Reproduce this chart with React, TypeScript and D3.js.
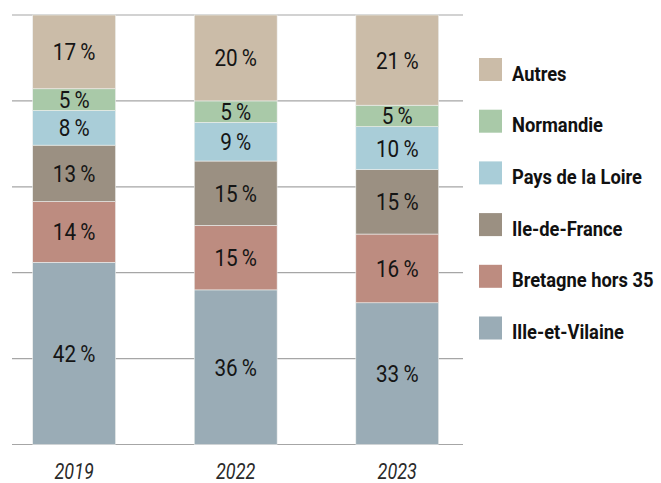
import React from "react";
import * as d3 from "d3";

const years = ["2019", "2022", "2023"];
const regions = ["Ille-et-Vilaine", "Bretagne hors 35", "Ile-de-France", "Pays de la Loire", "Normandie", "Autres"];
const illeEtVilaine = [42, 36, 33];
const bretagneHors35 = [14, 15, 16];
const ileDeFrance = [13, 15, 15];
const paysDeLaLoire = [8, 9, 10];
const normandie = [5, 5, 5];
const autres = [17, 20, 21];
const colors = ["#9aacb6", "#bd8c80", "#9b9082", "#a9cdd8", "#a9c9a8", "#cbbca8"];
const gridTicks = [0, 0.2, 0.4, 0.6, 0.8, 1];

const W = 661;
const H = 483;

export default function App() {
  const series = [illeEtVilaine, bretagneHors35, ileDeFrance, paysDeLaLoire, normandie, autres];
  const rows = years.map((y, i) => {
    const r: any = { year: y };
    regions.forEach((k, j) => (r[k] = series[j][i]));
    return r;
  });
  const stacked = d3.stack().keys(regions).offset(d3.stackOffsetExpand)(rows);

  const x = d3.scaleBand().domain(years).range([32.7, 438.7]).paddingInner(0.487).paddingOuter(0);
  const y = d3.scaleLinear().domain([0, 1]).range([444.5, 15]);
  const color = d3.scaleOrdinal<string>().domain(regions).range(colors);

  const font = "Roboto, 'Liberation Sans', sans-serif";

  // legend from top: Autres first
  const legendItems = regions.slice().reverse();

  return (
    <svg width={W} height={H} style={{ position: "absolute", left: 0, top: 0, background: "#fff" }}>
      <g>
        {gridTicks.map((t) => (
          <line key={t} x1={12} x2={463} y1={y(t)} y2={y(t)} stroke="#a6a6a6" strokeWidth={1.2} />
        ))}
      </g>
      {stacked.map((s) => (
        <g key={s.key} fill={color(s.key)}>
          {s.map((d, i) => (
            <rect
              key={i}
              x={x(years[i])}
              y={y(d[1])}
              width={x.bandwidth()}
              height={y(d[0]) - y(d[1])}
              stroke="#eef0ee"
              strokeWidth={0.6}
            />
          ))}
        </g>
      ))}
      {stacked.map((s, j) => (
        <g key={"l" + s.key}>
          {s.map((d, i) => {
            const cx = (x(years[i]) as number) + x.bandwidth() / 2;
            const cy = (y(d[0]) + y(d[1])) / 2 + 8.5;
            return (
              <text
                key={i}
                transform={`translate(${cx},${cy}) scale(0.88,1)`}
                textAnchor="middle"
                fontFamily={font}
                fontSize={23.5}
                fill="#151515"
              >
                {series[j][i] + "\u2009%"}
              </text>
            );
          })}
        </g>
      ))}
      <g>
        {years.map((yr) => (
          <text
            key={yr}
            transform={`translate(${(x(yr) as number) + x.bandwidth() / 2},479) scale(0.82,1)`}
            textAnchor="middle"
            fontFamily={font}
            fontStyle="italic"
            fontSize={22}
            fill="#2a2a2a"
          >
            {yr}
          </text>
        ))}
      </g>
      <g>
        {legendItems.map((k, i) => (
          <g key={k} transform={`translate(479,${58 + i * 51.7})`}>
            <rect width={23} height={23} fill={color(k)} />
            <text
              transform="translate(33,22.5) scale(0.94,1)"
              fontFamily={font}
              fontWeight="bold"
              fontSize={19.5}
              fill="#111"
            >
              {k}
            </text>
          </g>
        ))}
      </g>
    </svg>
  );
}
